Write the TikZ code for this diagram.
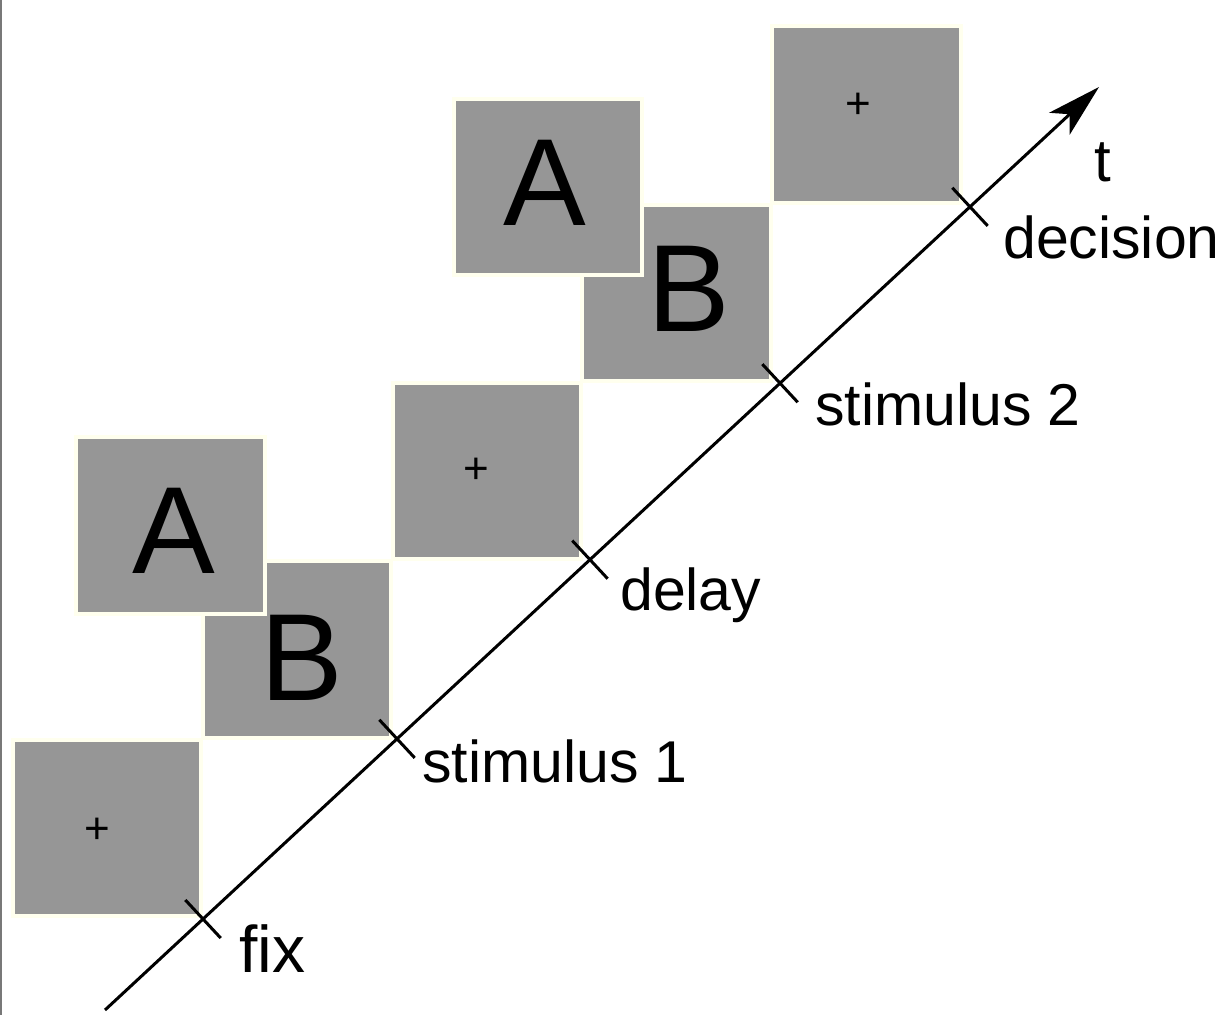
\documentclass[tikz,border=0pt]{standalone}
\usepackage{fontspec}
\setmainfont{Liberation Sans}
\usetikzlibrary{arrows.meta,calc}

\definecolor{screengray}{RGB}{150,150,150}
\definecolor{screenedge}{RGB}{255,255,238}
\definecolor{framegray}{RGB}{120,120,120}

\tikzset{
  screen/.style={rectangle, fill=screengray, draw=screenedge, line width=4pt,
                 minimum width=188.5pt, minimum height=176.5pt, inner sep=0pt},
  bigletter/.style={inner sep=0pt, font=\fontsize{124}{130}\selectfont},
  fixcross/.style={inner sep=0pt, font=\fontsize{44}{48}\selectfont},
  eventlabel/.style={inner sep=0pt, anchor=base west, font=\fontsize{59}{70}\selectfont},
  timeaxis/.style={line width=3pt, -{Stealth[length=54pt, width=30pt, inset=14pt]}},
  tickmark/.style={line width=3pt}
}

\begin{document}
\begin{tikzpicture}[x=1pt, y=-1pt]
  \useasboundingbox (0,0) rectangle (1230,1015);
  \draw[framegray, line width=2pt] (1,0) -- (1,1015);

  % stimulus screens
  \node[screen] (sfix)  at (107,828)   {};
  \node[fixcross] (pfix) at (97,831) {+};

  \node[screen] (sb1) at (297,649.5) {};
  \node[screen] (sa1) at (170.5,525.5) {};
  \node[bigletter] (la1) at (174,531) {A};
  \node[bigletter] (lb1) at (302,658) {B};

  \node[screen] (sdelay) at (487,471) {};
  \node[fixcross] (pdelay) at (476,471) {+};

  \node[screen] (sb2) at (676.5,293) {};
  \node[screen] (sa2) at (548,187) {};
  \node[bigletter] (la2) at (545,183) {A};
  \node[bigletter] (lb2) at (689,288.5) {B};

  \node[screen] (sdec) at (866.5,114.5) {};
  \node[fixcross] (pdec) at (858,106) {+};

  % time axis
  \coordinate (t0) at (105,1010);
  \coordinate (t1) at (1099,87);
  \draw[timeaxis] (t0) -- (t1);

  \coordinate (cfix)   at ($(t0)!0.0986!(t1)$);
  \coordinate (cstim1) at ($(t0)!0.2938!(t1)$);
  \coordinate (cdelay) at ($(t0)!0.4879!(t1)$);
  \coordinate (cstim2) at ($(t0)!0.6791!(t1)$);
  \coordinate (cdec)   at ($(t0)!0.8702!(t1)$);

  \foreach \c in {cfix,cstim1,cdelay,cstim2,cdec}
    \draw[tickmark] ($(\c)!26pt!90:(t1)$) -- ($(\c)!26pt!-90:(t1)$);

  % labels
  \node[eventlabel, font=\fontsize{66}{72}\selectfont] (lfix) at (239,972) {fix};
  \node[eventlabel] (lstim1) at (422,782) {stimulus 1};
  \node[eventlabel] (ldelay) at (620,610) {delay};
  \node[eventlabel] (lstim2) at (815,425) {stimulus 2};
  \node[eventlabel] (ldec)   at (1003,258) {decision};
  \node[inner sep=0pt, anchor=base, font=\fontsize{60}{70}\selectfont] (lt) at (1103,181) {t};
\end{tikzpicture}
\end{document}
